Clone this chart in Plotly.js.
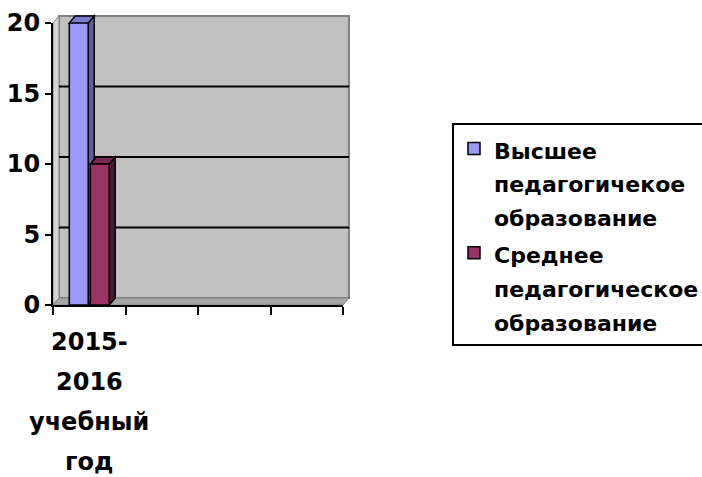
<!DOCTYPE html>
<html><head><meta charset="utf-8">
<script src="https://cdn.plot.ly/plotly-3.0.1.min.js"></script>
<style>html,body{margin:0;padding:0;background:#fff}</style>
</head><body><div id="chart" style="width:702px;height:477px"></div>
<script>
// ---- data ----
const categories = ['2015-2016 учебный год', '', '', ''];
const categoryLabelLines = [['2015-', '2016', 'учебный', 'год'], [], [], []];
const seriesNames = [['Высшее', 'педагогичекое', 'образование'], ['Среднее', 'педагогическое', 'образование']];
const higherEd = [20, null, null, null];
const secondaryEd = [10, null, null, null];
const yTicks = [0, 5, 10, 15, 20];

// ---- layout constants ----
const W = 702, H = 477, ML = 53, MR = 359, MT = 23, MB = 172;
const plotW = W - ML - MR, plotH = H - MT - MB;
const yMax = 20, xMin = -0.5, xMax = categories.length - 0.5;
const depthX = 6, depthY = 7;
const dxP = depthX / plotW, dyP = depthY / plotH;
const bargap = 0.42, bargroupgap = 0.1;
const FONT = {family: 'DejaVu Sans', size: 24, color: '#000', weight: 700};
const LEGEND_FONT = {family: 'DejaVu Sans', size: 26, color: '#000', weight: 700};
const legendGlyphPx = 22;

const series = [
  {name: seriesNames[0], values: higherEd, front: '#9999FF', side: '#5E5E9C', top: '#7B7BD0'},
  {name: seriesNames[1], values: secondaryEd, front: '#993366', side: '#4A1931', top: '#7A2850'}
];
const xIdx = categories.map((c, i) => i);
const toPX = x => (x - xMin) / (xMax - xMin);

const traces = series.map((s, j) => ({
  type: 'bar',
  name: s.name.map(t => `<span style="font-size:${legendGlyphPx}px">${t}</span>`).join('<br>'),
  legendgroup: 'g' + j,
  x: xIdx, y: s.values,
  marker: {color: s.front, line: {color: '#000', width: 1.5}},
  hoverinfo: 'y'
}));

// ---- 3D decoration shapes ----
const shapes = [];
shapes.push({type: 'rect', xref: 'paper', yref: 'paper', x0: dxP, x1: 1 + dxP, y0: dyP, y1: 1 + dyP,
  fillcolor: '#C0C0C0', line: {color: '#808080', width: 2}, layer: 'below'});
shapes.push({type: 'path', xref: 'paper', yref: 'paper',
  path: `M0,0 L0,1 L${dxP},${1 + dyP} L${dxP},${dyP} Z`,
  fillcolor: '#D4D4D4', line: {color: '#808080', width: 1}, layer: 'below'});
shapes.push({type: 'path', xref: 'paper', yref: 'paper',
  path: `M0,0 L1,0 L${1 + dxP},${dyP} L${dxP},${dyP} Z`,
  fillcolor: '#A6A6A6', line: {color: '#808080', width: 1}, layer: 'below'});
yTicks.filter(v => v > 0 && v < yMax).forEach(v => {
  shapes.push({type: 'line', xref: 'paper', yref: 'paper', x0: dxP, x1: 1 + dxP,
    y0: v / yMax + dyP, y1: v / yMax + dyP, line: {color: '#000', width: 2}, layer: 'below'});
});
const slot = (1 - bargap) / series.length;
const barW = slot * (1 - bargroupgap);
xIdx.forEach(i => {
  series.forEach((s, j) => {
    const v = s.values[i];
    if (v == null) return;
    const c = i - (1 - bargap) / 2 + slot * (j + 0.5);
    const xl = toPX(c - barW / 2), xr = toPX(c + barW / 2), yv = v / yMax;
    shapes.push({type: 'path', xref: 'paper', yref: 'paper',
      path: `M${xr},0 L${xr + dxP},${dyP} L${xr + dxP},${yv + dyP} L${xr},${yv} Z`,
      fillcolor: s.side, line: {color: '#000', width: 1.5}, layer: 'below'});
    shapes.push({type: 'path', xref: 'paper', yref: 'paper',
      path: `M${xl},${yv} L${xr},${yv} L${xr + dxP},${yv + dyP} L${xl + dxP},${yv + dyP} Z`,
      fillcolor: s.top, line: {color: '#000', width: 1.5}, layer: 'below'});
  });
});

// ---- category labels ----
const annotations = [];
categoryLabelLines.forEach((lines, i) => {
  lines.forEach((t, k) => {
    annotations.push({xref: 'x', yref: 'paper', x: i, y: 0, yanchor: 'middle', xanchor: 'center',
      yshift: -(37 + k * 40), text: t, showarrow: false, font: FONT});
  });
});

const boundaries = categories.concat(['']).map((c, i) => i - 0.5);

const layout = {
  width: W, height: H,
  margin: {l: ML, r: MR, t: MT, b: MB, autoexpand: false},
  paper_bgcolor: '#fff', plot_bgcolor: 'rgba(0,0,0,0)',
  barmode: 'group', bargap: bargap, bargroupgap: bargroupgap,
  showlegend: true,
  legend: {x: (452 - ML) / plotW, y: (305 - 123) / plotH, xanchor: 'left', yanchor: 'top',
    valign: 'top', bordercolor: '#000', borderwidth: 2, bgcolor: '#fff', font: LEGEND_FONT,
    tracegroupgap: 2, traceorder: 'normal'},
  xaxis: {range: [xMin, xMax], tickvals: boundaries, ticktext: boundaries.map(() => ''),
    ticks: 'outside', ticklen: 8, tickwidth: 2, tickcolor: '#000',
    showline: true, linecolor: '#000', linewidth: 2, showgrid: false, zeroline: false, fixedrange: true},
  yaxis: {range: [0, yMax], tickvals: yTicks, ticktext: yTicks.map(String),
    ticks: 'outside', ticklen: 6, tickwidth: 2, tickcolor: '#000', tickfont: FONT,
    showline: true, linecolor: '#000', linewidth: 2, showgrid: false, zeroline: false, fixedrange: true},
  shapes: shapes, annotations: annotations
};

Plotly.newPlot('chart', traces, layout, {displayModeBar: false, staticPlot: true});
</script></body></html>
